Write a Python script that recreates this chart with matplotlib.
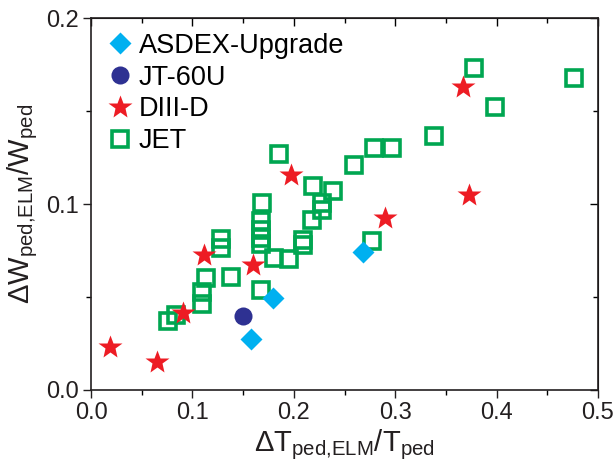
import numpy as np
import matplotlib
matplotlib.use('Agg')
import matplotlib.pyplot as plt
from matplotlib.ticker import MultipleLocator

plt.rcParams['font.family'] = ['Liberation Sans', 'DejaVu Sans']
plt.rcParams['mathtext.fontset'] = 'custom'
plt.rcParams['mathtext.rm'] = 'Liberation Sans'
plt.rcParams['mathtext.it'] = 'Liberation Sans'

# ASDEX-Upgrade
aug_x = [0.158, 0.179, 0.2686]
aug_y = [0.0274, 0.0496, 0.0741]
# JT-60U
jt_x = [0.1496]
jt_y = [0.0400]
# DIII-D
d3d_x = [0.019, 0.065, 0.091, 0.1115, 0.160, 0.197, 0.2895, 0.3667, 0.373]
d3d_y = [0.0233, 0.0149, 0.0416, 0.0726, 0.067, 0.1156, 0.0923, 0.163, 0.1048]
# JET
jet_x = [0.0757, 0.084, 0.109, 0.109, 0.113, 0.1376, 0.128, 0.128, 0.1857,
         0.169, 0.1675, 0.168, 0.168, 0.168, 0.1805, 0.1955, 0.168, 0.219,
         0.2386, 0.228, 0.228, 0.218, 0.2087, 0.2087, 0.259, 0.2786, 0.2967,
         0.2775, 0.3378, 0.3985, 0.378, 0.4767]
jet_y = [0.0372, 0.0405, 0.046, 0.0525, 0.0603, 0.0606, 0.0763, 0.081, 0.1267,
         0.1005, 0.091, 0.0858, 0.0815, 0.0785, 0.0708, 0.0705, 0.0535, 0.1095,
         0.1072, 0.1005, 0.0968, 0.0912, 0.0805, 0.078, 0.121, 0.130, 0.130,
         0.0803, 0.1366, 0.152, 0.1733, 0.1675]

fig = plt.figure(figsize=(6.13, 4.63), dpi=100)
ax = fig.add_axes([0.1485, 0.1577, 0.827, 0.8033])

ax.plot(jet_x, jet_y, 's', ms=11.5, mfc='none', mec='#00A651', mew=2.6, ls='none', label='JET', zorder=2)
ax.plot(d3d_x, d3d_y, '*', ms=18, color='#ED1C24', mec='none', ls='none', label='DIII-D', zorder=3)
ax.plot(jt_x, jt_y, 'o', ms=13, color='#2E3192', mec='none', ls='none', label='JT-60U', zorder=3)
ax.plot(aug_x, aug_y, 'D', ms=11, color='#00B0F0', mec='none', ls='none', label='ASDEX-Upgrade', zorder=3)

ax.set_xlim(0, 0.5)
ax.set_ylim(0, 0.2)
ax.xaxis.set_major_locator(MultipleLocator(0.1))
ax.xaxis.set_minor_locator(MultipleLocator(0.05))
ax.yaxis.set_major_locator(MultipleLocator(0.1))
ax.yaxis.set_minor_locator(MultipleLocator(0.05))
ax.xaxis.set_major_formatter(plt.FormatStrFormatter('%.1f'))
ax.yaxis.set_major_formatter(plt.FormatStrFormatter('%.1f'))
ax.tick_params(which='major', direction='out', length=6, width=1, labelsize=17, colors='#231F20', pad=3)
ax.tick_params(which='minor', direction='out', length=3.5, width=1)

top = ax.secondary_xaxis('top')
top.xaxis.set_major_locator(MultipleLocator(0.1))
top.xaxis.set_minor_locator(MultipleLocator(0.05))
top.tick_params(which='major', direction='in', length=6, width=1, labeltop=False)
top.tick_params(which='minor', direction='in', length=3.5, width=1)
right = ax.secondary_yaxis('right')
right.yaxis.set_major_locator(MultipleLocator(0.1))
right.yaxis.set_minor_locator(MultipleLocator(0.05))
right.tick_params(which='major', direction='in', length=6, width=1, labelright=False)
right.tick_params(which='minor', direction='in', length=3.5, width=1)

for s in ax.spines.values():
    s.set_linewidth(1.2)
    s.set_color('#231F20')

ax.set_xlabel(r'$\Delta\mathrm{T}_{\mathrm{ped{,}ELM}}/\mathrm{T}_{\mathrm{ped}}$', fontsize=21, color='#231F20', labelpad=2)
ax.set_ylabel(r'$\Delta\mathrm{W}_{\mathrm{ped{,}ELM}}/\mathrm{W}_{\mathrm{ped}}$', fontsize=21, color='#231F20', labelpad=4)

h, l = ax.get_legend_handles_labels()
order = [3, 2, 1, 0]
ax.legend([h[i] for i in order], [l[i] for i in order], loc='upper left',
          bbox_to_anchor=(-0.010, 1.012), frameon=False, fontsize=19.5,
          handletextpad=0.15, labelspacing=0.22, borderaxespad=0.3, handlelength=1.1)

fig.savefig('out.png', dpi=100)
